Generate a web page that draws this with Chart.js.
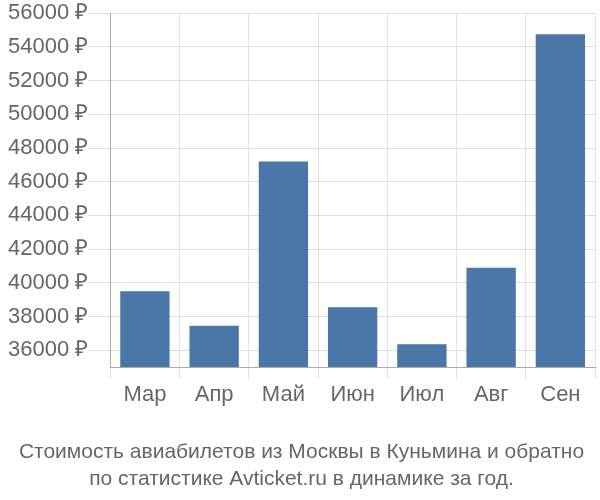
<!DOCTYPE html>
<html>
<head>
<meta charset="utf-8">
<script src="https://cdn.jsdelivr.net/npm/chart.js@4"></script>
<style>
html, body { margin: 0; padding: 0; background: #fff; }
#wrap { width: 600px; height: 500px; }
</style>
</head>
<body>
<div id="wrap"><canvas id="chart"></canvas></div>
<script>
const months = ['Мар', 'Апр', 'Май', 'Июн', 'Июл', 'Авг', 'Сен'];
const prices = [39500, 37450, 47200, 38550, 36350, 40900, 54750];
const tickValues = [36000, 38000, 40000, 42000, 44000, 46000, 48000, 50000, 52000, 54000, 56000];

new Chart(document.getElementById('chart'), {
    type: 'bar',
    data: {
        labels: months,
        datasets: [{
            data: prices,
            backgroundColor: '#4a76a8',
            categoryPercentage: 0.95,
            barPercentage: 0.75
        }]
    },
    options: {
        responsive: true,
        maintainAspectRatio: false,
        animation: false,
        layout: { padding: { top: 4, right: 5, left: 8, bottom: 8 } },
        plugins: {
            legend: { display: false },
            tooltip: { enabled: false },
            title: {
                display: true,
                position: 'bottom',
                text: ['Стоимость авиабилетов из Москвы в Куньмина и обратно', 'по статистике Avticket.ru в динамике за год.'],
                color: '#666',
                font: { family: 'Liberation Sans', size: 21, weight: 'normal', lineHeight: 1.25 },
                padding: { top: 28 }
            }
        },
        scales: {
            x: {
                grid: { display: true, color: '#e0e0e0', tickLength: 12, offset: true },
                border: { color: '#aaa' },
                ticks: { color: '#666', font: { family: 'Liberation Sans', size: 22 } }
            },
            y: {
                min: 35000,
                max: 56000,
                afterBuildTicks: axis => { axis.ticks = tickValues.map(v => ({ value: v })); },
                grid: { color: '#ddd', tickLength: 22 },
                border: { color: '#aaa' },
                ticks: {
                    color: '#666',
                    padding: 0,
                    font: { family: 'Liberation Sans', size: 22 },
                    callback: v => v + ' ₽'
                }
            }
        }
    }
});
</script>
</body>
</html>
